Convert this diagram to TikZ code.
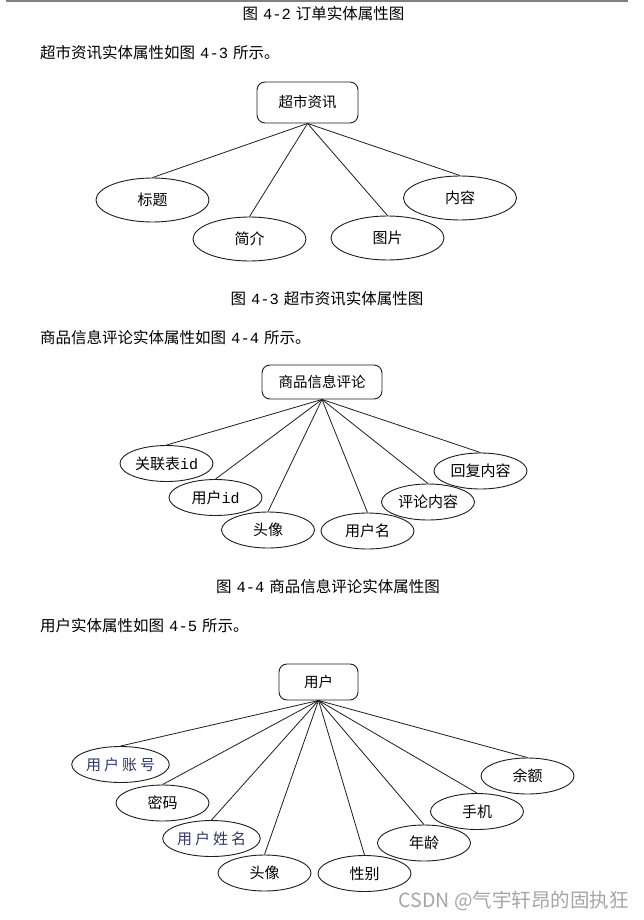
\documentclass[tikz,border=0pt]{standalone}
\usepackage{fontspec}
\setmainfont{Noto Sans CJK SC}
\newfontfamily\latmono{Liberation Mono}
\usetikzlibrary{shapes.geometric}
\definecolor{wmgray}{RGB}{165,165,165}
\definecolor{topgray}{RGB}{128,128,128}
\definecolor{bluetxt}{RGB}{45,55,105}
\definecolor{linec}{RGB}{30,30,30}
\newcommand{\mynum}[1]{\hspace{5pt}{\latmono #1}\hspace{5pt}}
\begin{document}
\begin{tikzpicture}[x=1pt,y=-1pt,
  entity/.style={draw=linec, line width=0.9pt, rounded corners=8pt, inner sep=0pt,
    font=\fontsize{14.5}{17}\selectfont},
  attrA/.style={draw=linec, line width=0.9pt, ellipse, inner sep=0pt,
    minimum width=113pt, minimum height=44pt, font=\fontsize{15}{18}\selectfont},
  attrB/.style={draw=linec, line width=0.9pt, ellipse, inner sep=0pt,
    minimum width=93pt, minimum height=36pt, font=\fontsize{15}{18}\selectfont},
  link/.style={draw=linec, line width=0.8pt},
  captext/.style={inner sep=0pt, font=\fontsize{15.5}{18}\selectfont},
  paratext/.style={inner sep=0pt, anchor=west, font=\fontsize{15.5}{18}\selectfont}
]
\useasboundingbox (0,0) rectangle (644,920);
\fill[white] (0,0) rectangle (644,920);
\coordinate (tl1) at (6,1);
\coordinate (tl2) at (628,1);
\draw[topgray, line width=2pt] (tl1) -- (tl2);

% texts
\node[captext] (cap1) at (323.5,14) {图\mynum{4-2}订单实体属性图};
\node[paratext] (par1) at (40,53) {超市资讯实体属性如图\mynum{4-3}所示。};
\node[captext] (cap2) at (327,299) {图\mynum{4-3}超市资讯实体属性图};
\node[paratext] (par2) at (40,338) {商品信息评论实体属性如图\mynum{4-4}所示。};
\node[captext] (cap3) at (328,587) {图\mynum{4-4}商品信息评论实体属性图};
\node[paratext] (par3) at (40,626) {用户实体属性如图\mynum{4-5}所示。};

% section 1
\node[entity, minimum width=101pt, minimum height=41pt] (e1) at (307.5,102.5) {超市资讯};
\node[attrA] (a11) at (152.5,200) {标题};
\node[attrA] (a12) at (249.5,239) {简介};
\node[attrA] (a13) at (387.5,238) {图片};
\node[attrA] (a14) at (460,198) {内容};
\foreach \n in {a11,a12,a13,a14} \draw[link] (e1.south) -- (\n.north);

% section 2
\node[entity, minimum width=120pt, minimum height=34pt] (e2) at (322,382) {商品信息评论};
\node[attrB] (b1) at (166.5,463.5) {关联表{\latmono id}};
\node[attrB] (b2) at (215.5,497.5) {用户{\latmono id}};
\node[attrB] (b3) at (268,530) {头像};
\node[attrB] (b4) at (367.5,531) {用户名};
\node[attrB] (b5) at (428,502) {评论内容};
\node[attrB] (b6) at (480.5,471) {回复内容};
\foreach \n in {b1,b2,b3,b4,b5,b6} \draw[link] (e2.south) -- (\n.north);

% section 3
\node[entity, minimum width=79pt, minimum height=36pt] (e3) at (318.5,682) {用户};
\node[attrB, text=bluetxt] (c1) at (120.5,764.5) {用\kern3pt 户\kern3pt 账\kern3pt 号};
\node[attrB] (c2) at (162.5,803) {密码};
\node[attrB, text=bluetxt] (c3) at (211.5,838.5) {用\kern3pt 户\kern3pt 姓\kern3pt 名};
\node[attrB] (c4) at (264.5,873) {头像};
\node[attrB] (c5) at (364.5,873.5) {性别};
\node[attrB] (c6) at (424,843) {年龄};
\node[attrB] (c7) at (477,811.5) {手机};
\node[attrB] (c8) at (527.5,776) {余额};
\foreach \n in {c1,c2,c3,c4,c5,c6,c7,c8} \draw[link] (e3.south) -- (\n.north);

% watermark
\node[inner sep=0pt, anchor=east, text=wmgray, font=\fontsize{19.5}{22}\selectfont] (wm) at (629,901) {CSDN @气宇轩昂的固执狂};
\end{tikzpicture}
\end{document}
